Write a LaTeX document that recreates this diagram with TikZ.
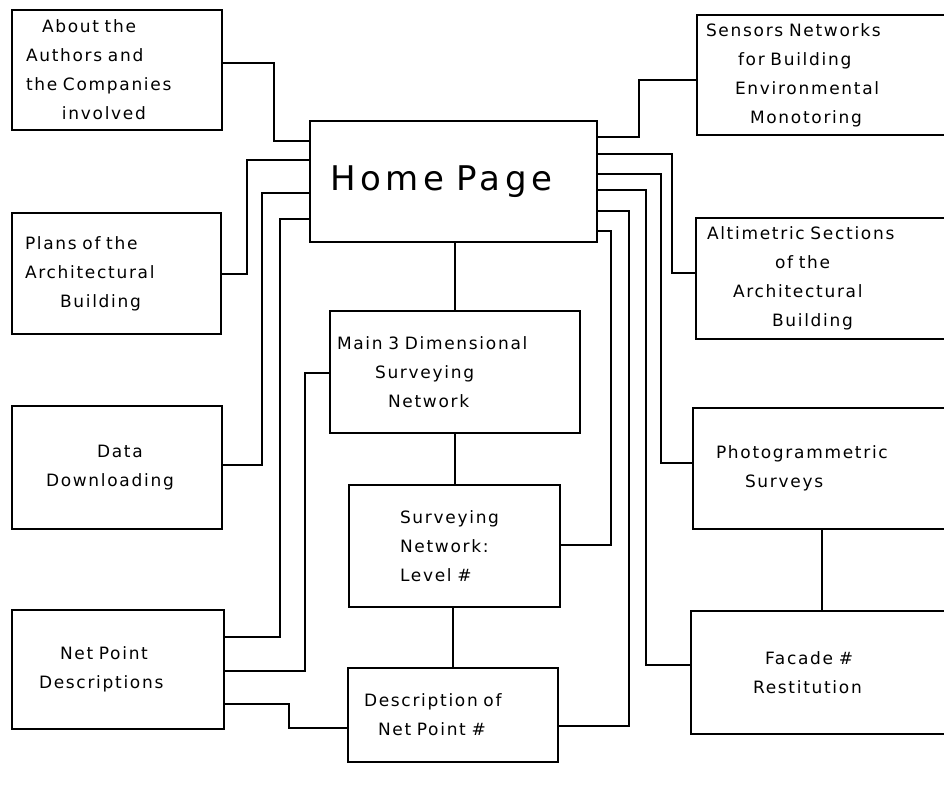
\documentclass[tikz,border=0pt]{standalone}
\usepackage{fontspec}
\usepackage{tikz}
\newfontfamily\plotfont[LetterSpace=10]{DejaVu Sans}
\newfontfamily\plotbig[LetterSpace=14]{DejaVu Sans}

\begin{document}
\begin{tikzpicture}[x=1pt,y=-1pt,line width=1.2pt,
  box/.style={draw,rectangle,inner sep=0pt,align=left,
    font=\plotfont\fontsize{17}{29}\selectfont}]
  \clip (0,0) rectangle (944,787);

  % left column
  \node[box,minimum width=210pt,minimum height=120pt,text width=182pt] (about) at (117,70)
    {\hspace*{16pt}About the\\Authors and\\the Companies\\\hspace*{36pt}involved};
  \node[box,minimum width=209pt,minimum height=121pt,text width=183pt] (plans) at (116.5,273.5)
    {Plans of the\\Architectural\\\hspace*{35pt}Building};
  \node[box,minimum width=210pt,minimum height=123pt,text width=142pt] (data) at (117,467.5)
    {\hspace*{51pt}Data\\Downloading};
  \node[box,minimum width=212pt,minimum height=119pt,text width=158pt] (npd) at (118,669.5)
    {\hspace*{21pt}Net Point\\Descriptions};

  % middle column
  \node[box,minimum width=287pt,minimum height=121pt,text width=247pt,
    font=\plotbig\fontsize{34}{40}\selectfont] (home) at (453.5,181.5)
    {\raisebox{7pt}{Home Page}};
  \node[box,minimum width=250pt,minimum height=122pt,text width=236pt] (main) at (455,372)
    {Main 3 Dimensional\\\hspace*{38pt}Surveying\\\hspace*{51pt}Network};
  \node[box,minimum width=211pt,minimum height=122pt,text width=109pt] (lev) at (454.5,546)
    {Surveying\\Network:\\Level \#};
  \node[box,minimum width=210pt,minimum height=94pt,text width=178pt] (dnp) at (453,715)
    {Description of\\\hspace*{14pt}Net Point \#};

  % right column
  \node[box,minimum width=253pt,minimum height=120pt,text width=235pt] (sens) at (823.5,75)
    {Sensors Networks\\\hspace*{32pt}for Building\\\hspace*{29pt}Environmental\\\hspace*{44pt}Monotoring};
  \node[box,minimum width=254pt,minimum height=121pt,text width=232pt] (alti) at (823,278.5)
    {Altimetric Sections\\\hspace*{68pt}of the\\\hspace*{26pt}Architectural\\\hspace*{65pt}Building};
  \node[box,minimum width=257pt,minimum height=121pt,text width=211pt] (photo) at (821.5,468.5)
    {Photogrammetric\\\hspace*{29pt}Surveys};
  \node[box,minimum width=259pt,minimum height=123pt,text width=135pt] (fac) at (820.5,672.5)
    {\hspace*{12pt}Facade \#\\Restitution};

  % links on the left
  \draw (home.west |- 0,141) -- (274,141) |- (about.east |- 0,63);
  \draw (home.west |- 0,160) -- (247,160) |- (plans.east |- 0,274);
  \draw (home.west |- 0,193) -- (262,193) |- (data.east |- 0,465);
  \draw (home.west |- 0,219) -- (280,219) |- (npd.east |- 0,637);
  \draw (main.west |- 0,373) -- (305,373) |- (npd.east |- 0,671);
  \draw (npd.east |- 0,704) -- (289,704) |- (dnp.west |- 0,728);

  % links on the right
  \draw (home.east |- 0,137) -- (639,137) |- (sens.west |- 0,80);
  \draw (home.east |- 0,154) -- (672,154) |- (alti.west |- 0,273);
  \draw (home.east |- 0,174) -- (661,174) |- (photo.west |- 0,463);
  \draw (home.east |- 0,190) -- (646,190) |- (fac.west |- 0,665);
  \draw (home.east |- 0,211) -- (629,211) |- (dnp.east |- 0,726);
  \draw (home.east |- 0,231) -- (611,231) |- (lev.east |- 0,545);

  % straight down
  \draw (main.north |- home.south) -- (main.north);
  \draw (main.south) -- (main.south |- lev.north);
  \draw (dnp.north |- lev.south) -- (dnp.north);
  \draw (photo.south -| 822,0) -- (fac.north -| 822,0);
\end{tikzpicture}
\end{document}
